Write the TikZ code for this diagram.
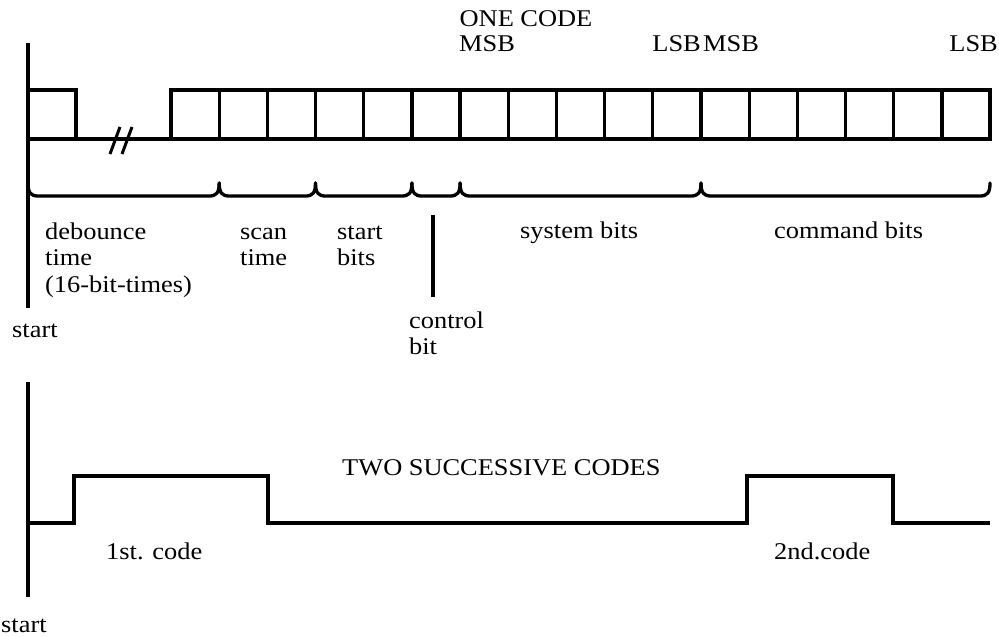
\documentclass[tikz,border=0pt]{standalone}
\usepackage{fontspec}
\setmainfont[FakeStretch=1.1]{Liberation Serif}
\usetikzlibrary{positioning}
\tikzstyle{wave} = [line width=3.3pt, line join=miter]
\tikzstyle{brace} = [line width=3.3pt, line cap=round]

\begin{document}
\begin{tikzpicture}[x=1pt, y=-1pt]
  \tikzstyle{txt} = [inner sep=0pt, font=\fontsize{24}{26}\selectfont, anchor=base west];
  \useasboundingbox (0,0) rectangle (999,637);
  % one code
  \node (one) [txt, anchor=base] at (526,27) {ONE CODE};
  \draw [wave] (28,43) -- (28,308);
  \draw [wave] (28,90) -- (76,90) -- (76,139);
  \draw [wave] (28,139) -- (990,139);
  \draw [line width=3pt] (110,154) -- (120,127) (122,154) -- (132,127);
  \foreach \i in {0,...,16}
    \draw [wave] ({171+\i*48.18},90) rectangle ({171+(\i+1)*48.18},139);
  \node (msbA) [txt] at (459,51) {MSB};
  \node (lsbA) [txt, anchor=base east] at (701,51) {LSB};
  \node (msbB) [txt] at (703,51) {MSB};
  \node (lsbB) [txt, anchor=base east] at (998,51) {LSB};
  \foreach \a/\b in {28/219.2, 219.2/315.5, 315.5/411.9, 411.9/460.1, 460.1/701, 701/990}
    \draw [brace] (\a,183) .. controls (\a,193) and (\a+3,196) .. (\a+10,196) -- (\b-10,196) .. controls (\b-3,196) and (\b,193) .. (\b,183);
  \node (deb) [txt] at (45,239) {debounce};
  \node (debtime) [txt] at ([yshift=-26.5pt]deb.base west) {time};
  \node (debbits) [txt] at ([yshift=-26.5pt]debtime.base west) {(16-bit-times)};
  \node (scan) [txt] at (240,239) {scan};
  \node (scantime) [txt] at ([yshift=-26.5pt]scan.base west) {time};
  \node (startb) [txt] at (337,239) {start};
  \node (startbits) [txt] at ([yshift=-26.5pt]startb.base west) {bits};
  \node (sys) [txt] at (520,238) {system bits};
  \node (cmd) [txt] at (774,238) {command bits};
  \coordinate (ctrltop) at (433,215);
  \coordinate (ctrlend) at (433,297);
  \draw [line width=3.3pt] (ctrltop) -- (ctrlend);
  \node (ctrl) [txt] at (409,328) {control};
  \node (ctrlbit) [txt] at ([yshift=-26pt]ctrl.base west) {bit};
  \node (startA) [txt] at (12,337) {start};
  % two successive codes
  \draw [wave] (28,382) -- (28,597);
  \draw [wave] (28,523) -- (74,523) -- (74,476) -- (268,476) -- (268,523) -- (747,523) -- (747,476) -- (893,476) -- (893,523) -- (990,523);
  \node (two) [txt] at (342,475) {TWO SUCCESSIVE CODES};
  \node (first) [txt] at (106,559) {1st. code};
  \node (second) [txt] at (774,559) {2nd.code};
  \node (startB) [txt] at (1,632) {start};
\end{tikzpicture}
\end{document}
